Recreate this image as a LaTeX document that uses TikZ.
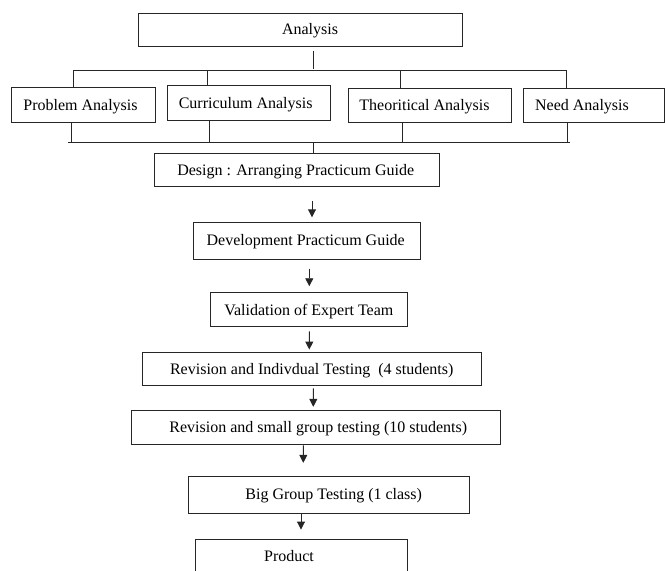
\documentclass[tikz,border=0pt]{standalone}
\usepackage{fontspec}
\setmainfont{Liberation Serif}
\usetikzlibrary{arrows.meta}
\begin{document}
\begin{tikzpicture}[x=1pt,y=-1pt,
  box/.style={draw=black!85,line width=0.9pt,rectangle,inner sep=0pt},
  txt/.style={inner sep=0pt,anchor=base,font=\fontsize{16}{19}\selectfont},
  ln/.style={draw=black!85,line width=0.9pt},
  arr/.style={ln,-{Triangle[length=8pt,width=8pt]}}]
\useasboundingbox (0,0) rectangle (665,571);
\clip (0,0) rectangle (665,571);
% boxes
\node[box,minimum width=324pt,minimum height=32.5pt] (A) at (300,29.75) {};
\node[box,minimum width=144pt,minimum height=35pt] (P) at (83,104.5) {};
\node[box,minimum width=163pt,minimum height=35pt] (C) at (248.5,102.5) {};
\node[box,minimum width=163.7pt,minimum height=34.7pt] (T) at (429.9,105.3) {};
\node[box,minimum width=140.3pt,minimum height=34.7pt] (N) at (593.9,105.3) {};
\node[box,minimum width=285pt,minimum height=33.4pt] (D) at (296.8,170) {};
\node[box,minimum width=226.3pt,minimum height=36.7pt] (Dev) at (306.9,240.7) {};
\node[box,minimum width=197.7pt,minimum height=34pt] (V) at (308.9,309.7) {};
\node[box,minimum width=339pt,minimum height=33.4pt] (R1) at (312.2,369) {};
\node[box,minimum width=368.3pt,minimum height=33.6pt] (R2) at (315.9,427.5) {};
\node[box,minimum width=281pt,minimum height=36.6pt] (B) at (328.5,495) {};
\node[box,minimum width=212pt,minimum height=50pt] (Pr) at (301.7,564.3) {};
% texts
\node[txt] (tA) at (310,34.5) {Analysis};
\node[txt] (tP) at (80.5,110) {Problem Analysis};
\node[txt] (tC) at (245.7,108) {Curriculum Analysis};
\node[txt] (tT) at (424.5,110.5) {Theoritical Analysis};
\node[txt] (tN) at (582,110.5) {Need Analysis};
\node[txt] (tD) at (295.7,175.5) {Design : Arranging Practicum Guide};
\node[txt] (tDev) at (305.7,245) {Development Practicum Guide};
\node[txt] (tV) at (308.8,315) {Validation of Expert Team};
\node[txt] (tR1) at (311.7,374) {Revision and Indivdual Testing\ \ (4 students)};
\node[txt] (tR2) at (318.3,432.5) {Revision and small group testing (10 students)};
\node[txt] (tB) at (333.7,499.5) {Big Group Testing (1 class)};
\node[txt] (tPr) at (289,561.5) {Product};
% top tree
\coordinate (tl) at (73,70.7);
\coordinate (tr) at (566.7,70.7);
\draw[ln] ([xshift=13.7pt,yshift=-4.5pt]A.south) -- ([xshift=13.7pt,yshift=-22.3pt]A.south);
\draw[ln] (tl) -- (tr);
\coordinate (pT) at ([xshift=-10pt]P.north);
\coordinate (cT) at ([xshift=-41.5pt]C.north);
\coordinate (tT) at ([xshift=-29.9pt]T.north);
\coordinate (nT) at ([xshift=-27.2pt]N.north);
\draw[ln] (pT) -- (pT |- tl);
\draw[ln] (cT) -- (cT |- tl);
\draw[ln] (tT) -- (tT |- tl);
\draw[ln] (nT) -- (nT |- tl);
% bottom tree
\coordinate (bl) at (68,142.7);
\coordinate (br) at (570,142.7);
\draw[ln] (bl) -- (br);
\coordinate (pB) at ([xshift=-12pt]P.south);
\coordinate (cB) at ([xshift=-39.5pt]C.south);
\coordinate (tB) at ([xshift=-27.9pt]T.south);
\coordinate (nB) at ([xshift=-26.6pt]N.south);
\coordinate (dT) at ([xshift=16.9pt]D.north);
\draw[ln] (pB) -- (pB |- bl);
\draw[ln] (cB) -- (cB |- bl);
\draw[ln] (tB) -- (tB |- bl);
\draw[ln] (nB) -- (nB |- bl);
\draw[ln] (dT) -- (dT |- bl);
% arrows
\draw[arr] ([xshift=15.2pt,yshift=-14.3pt]D.south) -- ([xshift=5.1pt,yshift=4.6pt]Dev.north);
\draw[arr] ([xshift=2.4pt,yshift=-9pt]Dev.south) -- ([xshift=0.4pt,yshift=6pt]V.north);
\draw[arr] ([xshift=0.4pt,yshift=-4.3pt]V.south) -- ([xshift=-2.9pt,yshift=2.3pt]R1.north);
\draw[arr] ([xshift=1.1pt,yshift=-2.3pt]R1.south) -- ([xshift=-2.6pt,yshift=3.4pt]R2.north);
\draw[arr] ([xshift=-12.6pt,yshift=-0.7pt]R2.south) -- ([xshift=-25.2pt,yshift=13.4pt]B.north);
\draw[arr] ([xshift=-27.5pt]B.south) -- ([xshift=-0.7pt,yshift=9.3pt]Pr.north);
\end{tikzpicture}
\end{document}
